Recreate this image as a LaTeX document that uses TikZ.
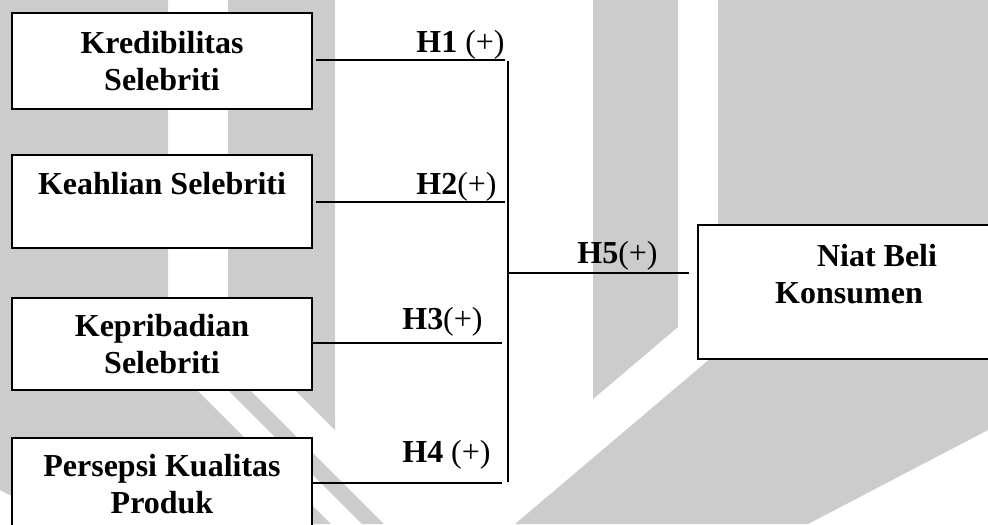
\documentclass[tikz,border=0pt]{standalone}
\usepackage{fontspec}
\setmainfont{Liberation Serif}
\definecolor{wm}{RGB}{204,204,204}
\begin{document}
\begin{tikzpicture}[x=0.5pt,y=-0.5pt,
  box/.style={draw, line width=1.15pt, fill=white, rectangle, align=center,
    inner sep=0pt, font=\bfseries\fontsize{16}{18.5}\selectfont},
  conn/.style={line width=1pt},
  hyp/.style={anchor=base east, inner sep=0pt, font=\fontsize{16}{18.5}\selectfont},
  wmark/.style={fill=wm, draw=none}]
\path[use as bounding box] (0,0) rectangle (988,524);
\clip (0,0) rectangle (988,524);
% watermark
\fill[wm] (0,0) -- (168,0) -- (168,361) -- (331,524) -- (65,524) -- (0,490) -- cycle;
\fill[wm] (228,0) -- (335,0) -- (335,430) -- (260,355) -- (215,355) -- (384,524)
  -- (362,524) -- (228,390) -- cycle;
\fill[wm] (593,0) -- (678,0) -- (678,327) -- (593,399) -- cycle;
\fill[wm] (718,0) -- (988,0) -- (988,430) -- (808,524) -- (515,524) -- (718,352) -- cycle;
% boxes
\node[box, minimum width=150pt, minimum height=48pt] (b1) at (162,61) {Kredibilitas\\Selebriti};
\node[box, minimum width=150pt, minimum height=46.5pt] (b2) at (162,201.5) {Keahlian Selebriti\\~};
\node[box, minimum width=150pt, minimum height=46pt] (b3) at (162,344) {Kepribadian\\Selebriti};
\node[box, minimum width=150pt, minimum height=46pt] (b4) at (162,484) {Persepsi Kualitas\\Produk};
\node[box, minimum width=151pt, minimum height=67pt] (b5) at (849,292) {\hspace*{28pt}Niat Beli\\Konsumen\\~};
% junction coordinates
\coordinate (j1) at (505,60);
\coordinate (j2) at (505,202);
\coordinate (j3) at (502,343);
\coordinate (j4) at (502,483);
\coordinate (vt) at (508,61);
\coordinate (vb) at (508,482);
\coordinate (v5) at (508,273);
\coordinate (e5) at (689,273);
% connectors
\draw[conn] (b1.east |- j1) ++(3,0) -- (j1);
\draw[conn] (b2.east |- j2) ++(3,0) -- (j2);
\draw[conn] (b3.east |- j3) -- (j3);
\draw[conn] (b4.east |- j4) -- (j4);
\draw[conn] (vt) -- (vb);
\draw[conn] (v5) -- (e5);
% labels
\node[hyp] (l1) at (505,53) {\textbf{H1} (+)};
\node[hyp] (l2) at (497,194) {\textbf{H2}(+)};
\node[hyp] (l3) at (483,329) {\textbf{H3}(+)};
\node[hyp] (l4) at (491,462) {\textbf{H4} (+)};
\node[hyp] (l5) at (658,263) {\textbf{H5}(+)};
\end{tikzpicture}
\end{document}
